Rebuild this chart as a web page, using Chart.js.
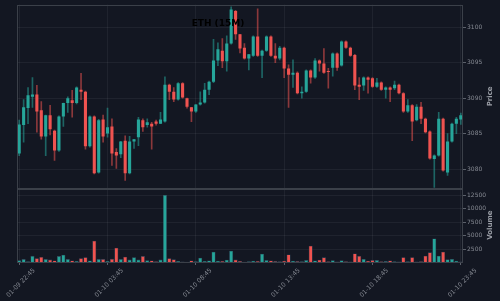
<!DOCTYPE html>
<html>
<head>
<meta charset="utf-8">
<script src="https://cdn.jsdelivr.net/npm/chart.js@4"></script>
<style>
  html, body { margin: 0; padding: 0; background: #131722; }
  canvas { display: block; }
</style>
</head>
<body>
<canvas id="myChart" width="500" height="301"></canvas>
<script>

const title = 'ETH (15M)';

// 15 minute candles, 01-09 22:45 .. 01-10 23:45
const opens = [
  3082.2, 3086.2, 3088.6, 3090.2, 3090.5, 3088.3, 3084.6, 3087.6, 3085.4, 3082.6,
  3087.4, 3089.3, 3089.7, 3089.3, 3091.2, 3090.9, 3083.2, 3087.4, 3079.5, 3087.0,
  3085.0, 3086.0, 3082.4, 3082.1, 3084.0, 3079.4, 3083.9, 3084.5, 3086.9, 3086.2,
  3086.4, 3086.7, 3086.4, 3086.7, 3091.9, 3090.9, 3089.8, 3092.1, 3090.0, 3088.7,
  3088.1, 3089.1, 3089.4, 3091.2, 3092.3, 3095.3, 3096.7, 3095.2, 3097.7, 3102.3,
  3099.0, 3097.1, 3095.6, 3096.0, 3098.7, 3096.0, 3096.7, 3098.7, 3096.0, 3095.6,
  3097.1, 3094.2, 3093.3, 3093.6, 3090.7, 3090.9, 3093.9, 3092.9, 3095.3, 3094.9,
  3093.8, 3094.3, 3096.3, 3094.6, 3098.0, 3097.1, 3096.1, 3091.9, 3091.8, 3092.9,
  3092.8, 3091.6, 3092.2, 3091.2, 3091.5, 3091.4, 3091.9, 3090.7, 3088.1, 3089.0,
  3086.9, 3088.8, 3087.1, 3085.3, 3081.4, 3081.9, 3087.1, 3079.5, 3083.9, 3086.4,
  3087.0
];
const highs = [
  3086.9, 3089.8, 3091.5, 3092.9, 3091.8, 3089.5, 3087.6, 3089.0, 3085.5, 3087.5,
  3089.3, 3090.2, 3091.1, 3091.6, 3093.5, 3091.0, 3087.5, 3087.5, 3087.0, 3087.6,
  3088.6, 3087.1, 3082.9, 3083.9, 3084.7, 3084.6, 3084.2, 3087.3, 3087.1, 3087.1,
  3086.6, 3086.9, 3088.0, 3093.0, 3092.0, 3091.5, 3092.2, 3092.2, 3090.0, 3088.7,
  3089.1, 3090.9, 3092.1, 3092.4, 3098.3, 3097.8, 3098.4, 3098.8, 3102.9, 3102.4,
  3099.0, 3097.7, 3096.2, 3098.8, 3102.6, 3096.8, 3098.8, 3098.8, 3097.7, 3097.3,
  3097.2, 3094.7, 3095.4, 3093.7, 3091.6, 3094.0, 3094.0, 3095.6, 3095.4, 3097.0,
  3094.2, 3096.4, 3096.4, 3098.1, 3098.1, 3097.2, 3096.2, 3092.9, 3093.0, 3093.0,
  3092.9, 3092.8, 3092.3, 3091.6, 3091.6, 3092.4, 3092.0, 3090.8, 3089.8, 3089.1,
  3089.1, 3089.4, 3087.2, 3085.4, 3082.0, 3088.0, 3087.2, 3085.0, 3086.5, 3087.3,
  3087.9
];
const lows = [
  3081.9, 3083.8, 3086.4, 3088.7, 3085.2, 3084.2, 3081.9, 3084.8, 3081.2, 3082.5,
  3086.0, 3088.0, 3087.3, 3089.2, 3089.8, 3082.8, 3083.1, 3079.3, 3079.4, 3083.8,
  3084.5, 3080.5, 3080.1, 3081.6, 3078.4, 3079.3, 3082.9, 3083.3, 3085.3, 3085.9,
  3082.8, 3086.2, 3086.4, 3086.6, 3089.8, 3089.5, 3089.7, 3090.0, 3088.6, 3086.7,
  3088.0, 3089.0, 3089.3, 3090.5, 3092.2, 3094.6, 3094.3, 3093.8, 3097.6, 3098.3,
  3096.4, 3095.5, 3094.0, 3095.9, 3095.9, 3092.9, 3096.6, 3095.9, 3095.0, 3095.4,
  3092.9, 3088.7, 3091.5, 3090.6, 3090.0, 3090.8, 3092.1, 3092.8, 3093.8, 3093.5,
  3091.4, 3093.1, 3093.9, 3094.5, 3097.0, 3095.9, 3091.2, 3089.8, 3091.1, 3090.7,
  3091.5, 3091.5, 3091.1, 3090.0, 3089.5, 3091.2, 3090.6, 3088.0, 3088.0, 3084.0,
  3086.8, 3086.4, 3085.1, 3081.4, 3077.4, 3081.8, 3079.7, 3079.1, 3083.8, 3085.0,
  3086.3
];
const closes = [
  3086.3, 3088.7, 3090.4, 3090.5, 3088.1, 3084.6, 3087.6, 3085.6, 3082.6, 3087.4,
  3089.3, 3090.0, 3089.3, 3091.5, 3090.9, 3083.2, 3087.4, 3079.4, 3086.9, 3084.6,
  3085.9, 3082.2, 3081.9, 3083.9, 3079.4, 3083.9, 3084.2, 3087.0, 3085.9, 3086.6,
  3086.0, 3086.4, 3087.0, 3091.9, 3090.9, 3089.8, 3092.1, 3090.1, 3088.8, 3088.1,
  3089.1, 3089.4, 3091.2, 3092.3, 3095.3, 3096.9, 3095.2, 3097.7, 3102.5, 3099.0,
  3097.0, 3095.6, 3096.2, 3098.7, 3096.0, 3096.7, 3098.7, 3096.0, 3095.6, 3097.1,
  3094.2, 3093.3, 3093.6, 3090.7, 3090.9, 3093.9, 3092.9, 3095.3, 3094.9, 3093.6,
  3093.7, 3096.3, 3094.3, 3098.0, 3097.1, 3096.0, 3091.8, 3091.6, 3092.9, 3092.6,
  3091.6, 3092.2, 3091.2, 3091.5, 3091.2, 3091.9, 3090.7, 3088.1, 3089.0, 3086.7,
  3088.8, 3087.1, 3085.2, 3081.5, 3081.9, 3087.1, 3079.8, 3083.9, 3086.4, 3087.1,
  3087.6
];
const volumes = [
  500, 700, 300, 1300, 850, 1100, 700, 600, 450, 1250,
  1500, 700, 450, 350, 850, 1050, 450, 4100, 700, 700,
  350, 750, 2800, 700, 1150, 600, 1050, 600, 1250, 500,
  450, 300, 600, 12540, 850, 650, 350, 250, 200, 450,
  300, 950, 350, 450, 2050, 400, 350, 580, 2250, 600,
  350, 200, 300, 400, 350, 1700, 520, 460, 340, 280,
  400, 1550, 400, 340, 300, 520, 3170, 460, 580, 1020,
  300, 500, 250, 470, 300, 250, 1750, 1270, 710, 400,
  520, 520, 300, 340, 460, 300, 250, 1050, 300, 1050,
  250, 300, 1330, 1940, 4520, 1330, 2060, 650, 710, 400,
  250
];

const priceTicks = [3080, 3085, 3090, 3095, 3100];
const volumeTicks = [2500, 5000, 7500, 10000, 12500];
const tickEvery = 20;

// category labels, one per 15 minutes
const times = [];
for (let i = 0; i < opens.length; i++) {
  let m = 22 * 60 + 45 + 15 * i;
  let day = 9 + Math.floor(m / 1440);
  m = m % 1440;
  times.push('01-' + String(day).padStart(2, '0') + ' ' +
    String(Math.floor(m / 60)).padStart(2, '0') + ':' + String(m % 60).padStart(2, '0'));
}

const UP = '#26a69a', DOWN = '#ef5350';
const UP_WICK = 'rgba(38,166,154,0.55)', DOWN_WICK = 'rgba(239,83,80,0.55)';
const isUp = closes.map((c, i) => c >= opens[i]);

const decor = {
  id: 'decor',
  afterDraw(chart) {
    const { ctx, chartArea, scales } = chart;
    ctx.save();
    ctx.strokeStyle = '#3b4049';
    ctx.lineWidth = 1;
    for (const s of [scales.y, scales.yv]) {
      ctx.strokeRect(chartArea.left + 0.5, Math.round(s.top) + 0.5,
        chartArea.right - chartArea.left - 1, Math.round(s.bottom - s.top));
    }
    ctx.fillStyle = '#9a9ea6';
    ctx.font = 'bold 7px "DejaVu Sans"';
    ctx.textAlign = 'center';
    ctx.textBaseline = 'middle';
    for (const [txt, s] of [['Price', scales.y], ['Volume', scales.yv]]) {
      ctx.save();
      ctx.translate(490, (s.top + s.bottom) / 2);
      ctx.rotate(-Math.PI / 2);
      ctx.fillText(txt, 0, 0);
      ctx.restore();
    }
    ctx.fillStyle = '#000';
    ctx.font = 'bold 9px "DejaVu Sans"';
    ctx.fillText(title, 218, 24);
    ctx.restore();
  }
};

const gridColor = 'rgba(255,255,255,0.055)';
const tickColor = '#868a93';

new Chart(document.getElementById('myChart'), {
  type: 'bar',
  data: {
    labels: times,
    datasets: [
      {
        label: 'body',
        data: opens.map((o, i) => [o, closes[i]]),
        backgroundColor: isUp.map(u => u ? UP : DOWN),
        yAxisID: 'y',
        grouped: false,
        barPercentage: 0.7,
        categoryPercentage: 1,
        minBarLength: 1,
        order: 1
      },
      {
        label: 'wick',
        data: lows.map((l, i) => [l, highs[i]]),
        backgroundColor: isUp.map(u => u ? UP_WICK : DOWN_WICK),
        yAxisID: 'y',
        grouped: false,
        barThickness: 1,
        order: 2
      },
      {
        label: 'volume',
        data: volumes,
        backgroundColor: isUp.map(u => u ? UP : DOWN),
        borderColor: 'rgba(60,76,100,0.9)',
        borderWidth: 0.6,
        yAxisID: 'yv',
        grouped: false,
        barPercentage: 0.92,
        categoryPercentage: 1,
        order: 3
      }
    ]
  },
  options: {
    responsive: false,
    animation: false,
    devicePixelRatio: 1,
    layout: { padding: { left: 17, top: 4, right: 0, bottom: 0 } },
    plugins: { legend: { display: false }, tooltip: { enabled: false } },
    scales: {
      x: {
        offset: true,
        grid: { color: gridColor, offset: false, tickLength: 3, tickColor: '#5b606a' },
        border: { display: false },
        afterBuildTicks: (s) => {
          s.ticks = times.map((t, i) => ({ value: i })).filter(t => t.value % tickEvery === 0);
        },
        afterFit: (s) => {
          s.height = 39;
          s.paddingLeft = 0;
          s.paddingRight = 0;
        },
        ticks: {
          autoSkip: false,
          maxRotation: 45,
          minRotation: 45,
          padding: 2,
          labelOffset: 15,
          color: tickColor,
          font: { family: 'DejaVu Sans', size: 6.2 },
          callback: (v) => times[v]
        }
      },
      y: {
        position: 'right',
        stack: 'panes',
        stackWeight: 184,
        min: 3077.3,
        max: 3103.2,
        grid: { color: gridColor, tickLength: 3, tickColor: '#5b606a' },
        border: { display: false },
        afterBuildTicks: (s) => { s.ticks = priceTicks.map(v => ({ value: v })); },
        afterFit: (s) => { s.width = 37; },
        ticks: {
          padding: 1,
          color: tickColor,
          font: { family: 'DejaVu Sans', size: 6 },
          callback: (v) => String(v)
        }
      },
      yv: {
        position: 'right',
        stack: 'panes',
        stackWeight: 74,
        min: 160,
        max: 13790,
        grid: { color: gridColor, tickLength: 3, tickColor: '#5b606a' },
        border: { display: false },
        afterBuildTicks: (s) => { s.ticks = volumeTicks.map(v => ({ value: v })); },
        afterFit: (s) => { s.width = 37; },
        ticks: {
          padding: 1,
          color: tickColor,
          font: { family: 'DejaVu Sans', size: 6 },
          callback: (v) => String(v)
        }
      }
    }
  },
  plugins: [decor]
});
</script>
</body>
</html>
